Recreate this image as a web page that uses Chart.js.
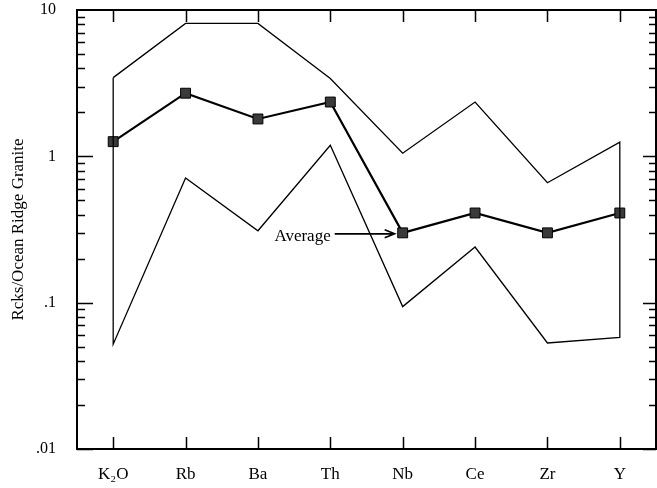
<!DOCTYPE html>
<html>
<head>
<meta charset="utf-8">
<script src="https://cdn.jsdelivr.net/npm/chart.js@4"></script>
<style>
html,body{margin:0;padding:0;background:#fff;}
#wrap{width:657px;height:488px;}
</style>
</head>
<body>
<div id="wrap"><canvas id="c" width="657" height="488"></canvas></div>
<script>
const categories = ['K\u2082O','Rb','Ba','Th','Nb','Ce','Zr','Y'];
const upperValues = [3.45, 8.1, 8.1, 3.4, 1.05, 2.35, 0.66, 1.25];
const lowerValues = [0.052, 0.71, 0.31, 1.19, 0.094, 0.24, 0.053, 0.058];
const averageValues = [1.26, 2.7, 1.8, 2.35, 0.30, 0.41, 0.30, 0.41];
const yTickValues = [10, 1, 0.1, 0.01];
const yTickLabels = ['10', '1', '.1', '.01'];
const yTitle = 'Rcks/Ocean Ridge Granite';
const annotationText = 'Average';
const annotationIndex = 4;

const FONT = "'Liberation Serif', 'Times New Roman', serif";

const envelope = [];
categories.forEach((c, i) => envelope.push({x: c, y: upperValues[i]}));
for (let i = categories.length - 1; i >= 0; i--) envelope.push({x: categories[i], y: lowerValues[i]});
envelope.push({x: categories[0], y: upperValues[0]});

const framePlugin = {
  id: 'frame',
  afterDraw(chart) {
    const ctx = chart.ctx;
    const a = chart.chartArea;
    const ys = chart.scales.y, xs = chart.scales.x;
    ctx.save();
    ctx.strokeStyle = '#000';
    ctx.lineWidth = 2;
    ctx.strokeRect(a.left, a.top, a.right - a.left, a.bottom - a.top);
    ctx.lineWidth = 1.5;
    ctx.beginPath();
    for (let n = -2; n <= 0; n++) {
      for (let d = 1; d <= 9; d++) {
        const v = d * Math.pow(10, n);
        const y = Math.round(ys.getPixelForValue(v)) + 0.5;
        const major = d === 1;
        ctx.moveTo(a.left, y); ctx.lineTo(a.left + (major ? 16 : 8), y);
        ctx.moveTo(a.right, y); ctx.lineTo(a.right - (major ? 13 : 7), y);
      }
    }
    categories.forEach((c, i) => {
      const x = Math.round(xs.getPixelForValue(i)) + 0.5;
      ctx.moveTo(x, a.top); ctx.lineTo(x, a.top + 12);
      ctx.moveTo(x, a.bottom); ctx.lineTo(x, a.bottom - 12);
    });
    ctx.stroke();

    const meta = chart.getDatasetMeta(1);
    const pt = meta.data[annotationIndex];
    const px = pt.x, py = pt.y + 1;
    ctx.lineWidth = 1.6;
    ctx.beginPath();
    ctx.moveTo(px - 68, py); ctx.lineTo(px - 8, py);
    ctx.moveTo(px - 18, py - 4); ctx.lineTo(px - 8, py); ctx.lineTo(px - 18, py + 4);
    ctx.stroke();
    ctx.fillStyle = '#000';
    ctx.font = '17px ' + FONT;
    ctx.textAlign = 'right';
    ctx.textBaseline = 'middle';
    ctx.fillText(annotationText, px - 72, py + 3);
    ctx.restore();
  }
};

new Chart(document.getElementById('c'), {
  type: 'line',
  data: {
    labels: categories,
    datasets: [
      {
        label: 'Range',
        data: envelope,
        borderColor: '#000',
        borderWidth: 1.3,
        pointRadius: 0,
        tension: 0,
        fill: false
      },
      {
        label: 'Average',
        data: averageValues,
        borderColor: '#000',
        borderWidth: 2.2,
        pointStyle: 'rect',
        pointRadius: 7,
        pointBackgroundColor: '#3a3a3a',
        pointBorderColor: '#000',
        pointBorderWidth: 1,
        tension: 0,
        fill: false
      }
    ]
  },
  options: {
    responsive: false,
    animation: false,
    devicePixelRatio: 1,
    layout: {autoPadding: false, padding: {top: 10, right: 1, left: 0, bottom: 0}},
    plugins: {legend: {display: false}, tooltip: {enabled: false}},
    scales: {
      x: {
        type: 'category',
        offset: true,
        grid: {display: false, drawTicks: false},
        border: {display: false},
        ticks: {color: '#000', font: {family: FONT, size: 17}, padding: 15, maxRotation: 0},
        afterFit(s) { s.height = 39; s.paddingLeft = 0; s.paddingRight = 0; }
      },
      y: {
        type: 'logarithmic',
        min: 0.01,
        max: 10,
        grid: {display: false, drawTicks: false},
        border: {display: false},
        afterBuildTicks(s) { s.ticks = yTickValues.map(v => ({value: v, major: true})); },
        ticks: {
          color: '#000',
          font: {family: FONT, size: 16},
          padding: 21,
          autoSkip: false,
          callback(v) { const i = yTickValues.indexOf(v); return i >= 0 ? yTickLabels[i] : ''; }
        },
        title: {display: true, text: yTitle, color: '#000', font: {family: FONT, size: 17}, padding: {top: 8, bottom: 0}},
        afterFit(s) { s.width = 77; s.paddingTop = 0; s.paddingBottom = 0; }
      }
    }
  },
  plugins: [framePlugin]
});
</script>
</body>
</html>
